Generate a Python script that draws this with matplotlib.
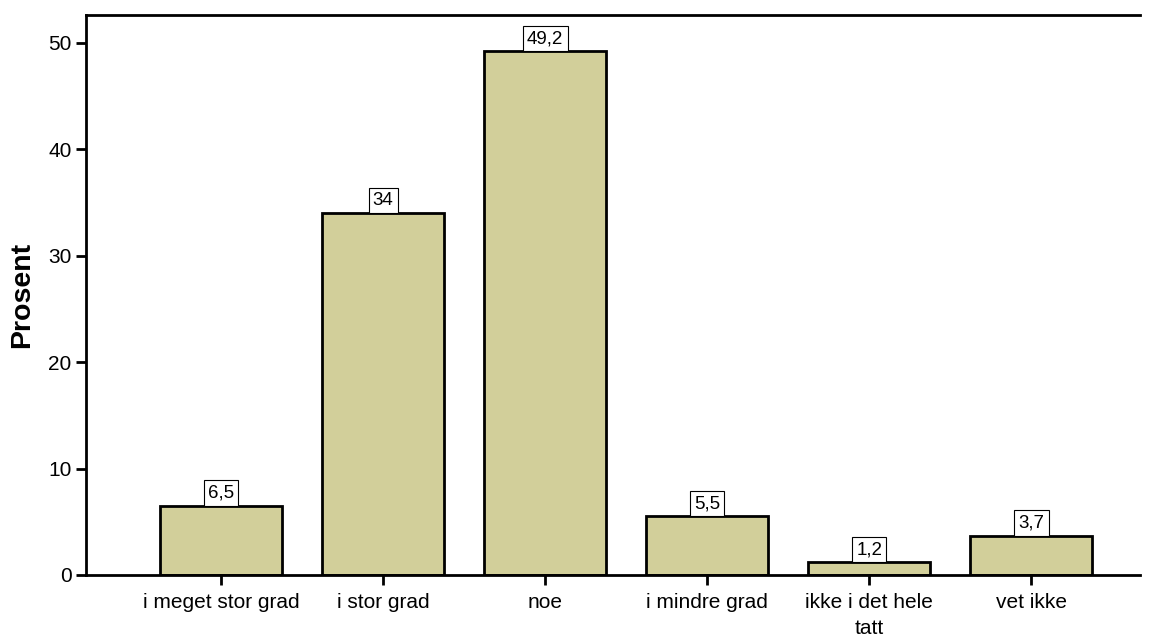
import numpy as np
import matplotlib.pyplot as plt

plt.rcParams['font.family'] = ['Liberation Sans', 'DejaVu Sans']

categories = ["i meget stor grad", "i stor grad", "noe", "i mindre grad",
              "ikke i det hele\ntatt", "vet ikke"]
values = [6.5, 34.0, 49.2, 5.5, 1.2, 3.7]
value_labels = ["6,5", "34", "49,2", "5,5", "1,2", "3,7"]

fig = plt.figure(figsize=(11.55, 6.41), dpi=100)
ax = fig.add_axes([0.0745, 0.103, 0.9125, 0.8736])

x = np.arange(len(categories))
ax.bar(x, values, width=0.753, color="#D2CF9A", edgecolor="black", linewidth=2, zorder=2)

# value boxes sitting on top of each bar
for xi, v, lab in zip(x, values, value_labels):
    ax.annotate(lab, (xi, v), xytext=(0, 3), textcoords="offset points",
                ha="center", va="bottom", fontsize=13.5,
                bbox=dict(boxstyle="square,pad=0.22", fc="white", ec="black", lw=0.8),
                zorder=3)

ax.set_xlim(-0.833, 5.67)
ax.set_ylim(0, 52.6)
ax.set_xticks(x)
ax.set_xticklabels(categories, fontsize=15, linespacing=1.45)
ax.set_yticks([0, 10, 20, 30, 40, 50])
ax.tick_params(axis="y", labelsize=15, length=7, width=2)
ax.tick_params(axis="x", length=7, width=2, pad=6)
ax.set_ylabel("Prosent", fontsize=20.5, fontweight="bold", labelpad=9)

ax.spines["right"].set_visible(False)
for s in ["left", "top", "bottom"]:
    ax.spines[s].set_linewidth(2)

fig.savefig("out.png", dpi=100)
